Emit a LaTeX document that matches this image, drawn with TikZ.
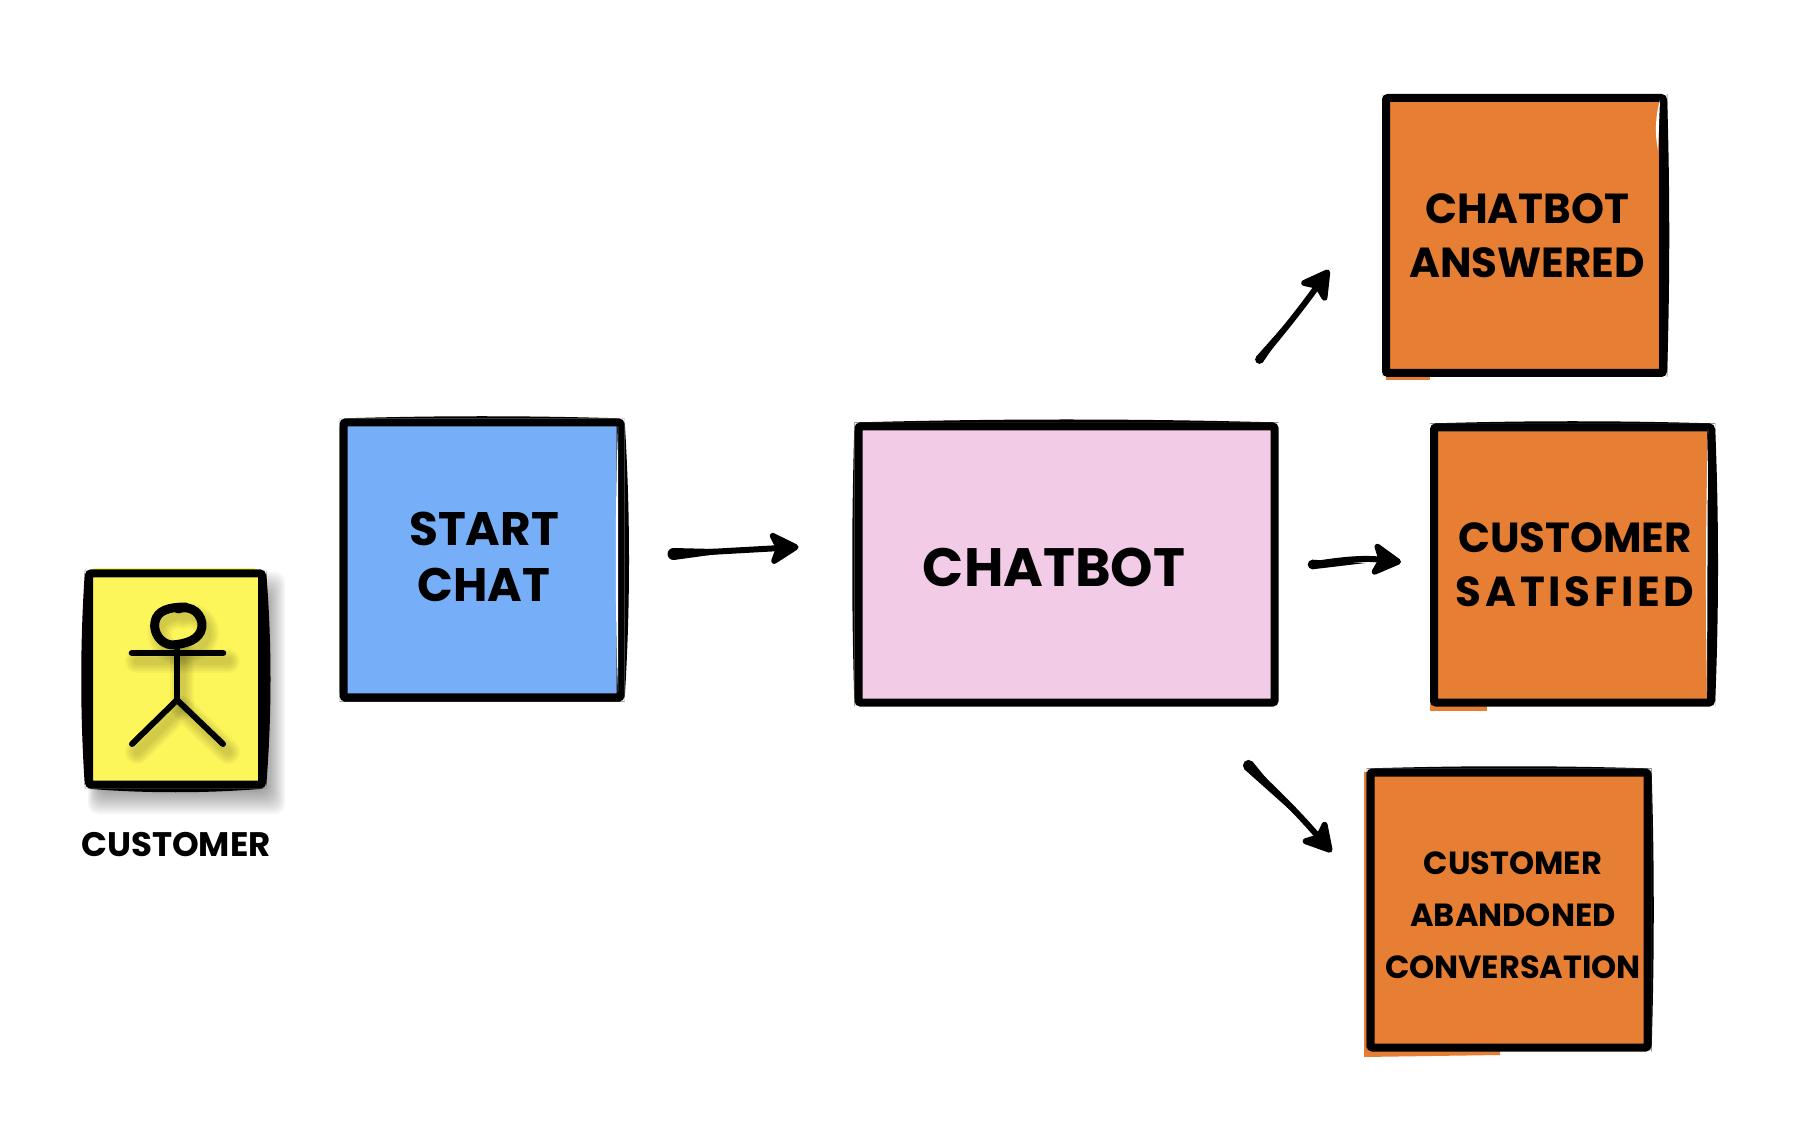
\documentclass[tikz,border=0pt]{standalone}
\usepackage{fontspec}
\usepackage{tikz}
\usetikzlibrary{positioning, calc, arrows.meta}
\setmainfont{Poppins}
\definecolor{yellowfill}{RGB}{253,246,90}
\definecolor{bluefill}{RGB}{118,174,248}
\definecolor{pinkfill}{RGB}{242,203,230}
\definecolor{orangefill}{RGB}{230,126,52}
\tikzset{
    sketchbox/.style={
        rectangle,
        draw=black,
        line width=4pt, % 8 px outline
        rounded corners=1pt,
        minimum width=138.5pt,
        minimum height=137.5pt,
        inner sep=0
    },
    bluebox/.style={sketchbox, fill=bluefill},
    pinkbox/.style={sketchbox, fill=pinkfill, minimum width=208pt, minimum height=138pt},
    orangebox/.style={sketchbox, fill=orangefill},
    yellowbox/.style={sketchbox, fill=yellowfill, minimum width=86.5pt, minimum height=105.5pt},
    boxlabel/.style={
        align=center,
        inner sep=0,
        font=\bfseries\fontsize{21}{27}\selectfont
    },
    smalllabel/.style={
        align=center,
        inner sep=0,
        font=\bfseries\fontsize{16}{26}\selectfont
    },
    flowarrow/.style={
        line width=3pt,
        line cap=round,
        -{Stealth[length=17pt, width=19pt, inset=4pt, round]}
    },
    stickline/.style={line width=3pt, line cap=round, line join=round}
}
% thick ink stroke along one side of a box
\newcommand{\inkedge}[4][black]{
    \fill[#1] (#2) .. controls ($(#2)!.33!(#3)+(#4)$) and ($(#2)!.67!(#3)+(#4)$) .. (#3) -- cycle;
}
% heavier start of an arrow, thinning out along the line
\newcommand{\inktail}[3]{
    \fill (#1) circle (#3);
    \fill ($(#1)!#3!90:(#2)$) -- ($(#1)!.6!(#2)$) -- ($(#1)!#3!-90:(#2)$) -- cycle;
}
\newcommand{\stickhead}{
    \draw (178,609) .. controls (192,604) and (203,615) .. (202,627)
        .. controls (200,640) and (186,644) .. (172,645)
        .. controls (160,644) and (153,632) .. (155,622)
        .. controls (157,610) and (170,607) .. (186,607);
}
\newcommand{\stickbody}{
    \draw (177,644) -- (177,700);
    \draw (132,744) -- (177,700) -- (223,744);
}
\newcommand{\stickarms}{
    \draw (132,653) -- (223,653);
}
\begin{document}
\begin{tikzpicture}[x=0.5pt, y=-0.5pt]
    \useasboundingbox (0,0) rectangle (1794,1138);

    % soft shadow of the yellow card
    \foreach \g in {24,22,...,0}{
        \fill[black, opacity=.035, rounded corners=5pt]
            ({100-\g/2},{596-\g}) rectangle ({266+\g*.8},{790+\g});
    }
    % paint that spills past the outlines
    \fill[yellowfill] (93,568) rectangle (255,575);
    \fill[orangefill] (1386,370) rectangle (1430,380);
    \fill[orangefill] (1430,700) rectangle (1487,711);
    \fill[orangefill] (1364,772) -- (1375,772) -- (1375,1050) -- (1500,1050) -- (1500,1055) -- (1364,1057) -- cycle;

    \node[yellowbox] (customer) at (175.5,679) {};
    \node[boxlabel, font=\bfseries\fontsize{17}{22}\selectfont] (customerlabel) at (176,845) {CUSTOMER};

    % shadow of the figure
    \foreach \w in {12pt,10pt,8pt,6pt,4pt}{
        \begin{scope}[shift={(5,8)}, stickline, line width=\w, draw=black, draw opacity=.035]
            \stickhead
            \stickbody
            \stickarms
        \end{scope}
    }
    \begin{scope}[stickline]
        \stickbody
    \end{scope}
    \begin{scope}[stickline, line width=3.3pt]
        \stickarms
    \end{scope}
    \begin{scope}[stickline, line width=4.5pt]
        \stickhead
    \end{scope}

    % boxes
    \node[bluebox] (start) at (482,560) {};
    \node[pinkbox] (chatbot) at (1066.5,564.5) {};
    \node[orangebox] (answered) at (1524.5,235.5) {};
    \node[orangebox] (satisfied) at (1572.5,565) {};
    \node[orangebox] (abandoned) at (1509,910) {};

    % white gaps between fill and outline
    \inkedge[white]{618,426}{618,692}{-3,0}
    \inkedge[white]{1660,100}{1658,150}{-4,0}
    \inkedge[white]{1708,429}{1707,692}{-2,0}

    % ink
    \inkedge{chatbot.north west}{chatbot.north east}{0,7}
    \inkedge{chatbot.north west}{chatbot.north east}{0,-4}
    \inkedge{chatbot.north west}{chatbot.south west}{-3,0}
    \inkedge{answered.north east}{answered.south east}{-6,0}
    \inkedge{answered.north east}{answered.south east}{3,0}
    \inkedge{answered.north west}{answered.south west}{4,0}
    \inkedge{satisfied.north west}{satisfied.north east}{0,5}
    \inkedge{satisfied.north west}{satisfied.north east}{0,-3}
    \inkedge{satisfied.north east}{satisfied.south east}{4,0}
    \inkedge{start.south west}{start.south east}{0,-6}
    \inkedge{start.north east}{start.south east}{6,0}
    \inkedge{start.north west}{start.north east}{0,-3}
    \inkedge{start.north west}{start.south west}{3,0}
    \inkedge{abandoned.north west}{abandoned.north east}{0,6}
    \inkedge{abandoned.north west}{abandoned.north east}{0,-3}
    \inkedge{abandoned.north west}{abandoned.south west}{6,0}
    \inkedge{abandoned.north east}{abandoned.south east}{-4,0}
    \inkedge{abandoned.north east}{abandoned.south east}{3,0}
    \inkedge{customer.north west}{customer.south west}{-5,0}
    \inkedge{customer.north east}{customer.south east}{6,0}
    \inkedge{customer.south west}{customer.south east}{0,5}

    % labels
    \node[boxlabel, font=\bfseries\fontsize{23.5}{28}\selectfont] (startlabel) at (484,557) {START\\CHAT};
    \node[boxlabel, font=\bfseries\fontsize{27}{34}\selectfont] (chatbotlabel) at (1054,567) {CHATBOT};
    \node[boxlabel] (answeredlabel) at (1527,236) {CHATBOT\\ANSWERED};
    \node[boxlabel] (satisfiedlabel) at (1575,565) {CUSTOMER\\{\addfontfeature{LetterSpace=9}SATISFIED}};
    \node[smalllabel] (abandonedlabel) at (1513,915) {CUSTOMER\\ABANDONED\\CONVERSATION};

    % arrow ends
    \coordinate (startout) at ([xshift=24.5pt,yshift=3pt]start.east);
    \coordinate (chatbotin) at ([xshift=-28pt,yshift=8.75pt]chatbot.west);
    \coordinate (answeredout) at ([xshift=-9.5pt,yshift=31.5pt]chatbot.north east);
    \coordinate (answeredin) at ([xshift=-26.5pt,yshift=-17.25pt]answered.west);
    \coordinate (satisfiedout) at ([xshift=17pt]chatbot.east);
    \coordinate (satisfiedin) at ([xshift=-14.5pt,yshift=1.5pt]satisfied.west);
    \coordinate (abandonedout) at ([xshift=-15pt,yshift=-29.5pt]chatbot.south east);
    \coordinate (abandonedin) at ([xshift=-17.5pt,yshift=29pt]abandoned.west);

    % arrows
    \draw[flowarrow] (startout) -- (chatbotin);
    \inktail{startout}{chatbotin}{3pt}
    \draw[flowarrow] (answeredout) to[bend right=2] (answeredin);
    \inktail{answeredout}{answeredin}{2.2pt}
    \draw[flowarrow] (satisfiedout) to[bend left=8] (satisfiedin);
    \inktail{satisfiedout}{satisfiedin}{2.4pt}
    \draw[flowarrow] (abandonedout) to[bend left=3] (abandonedin);
    \inktail{abandonedout}{abandonedin}{2.8pt}
\end{tikzpicture}
\end{document}
